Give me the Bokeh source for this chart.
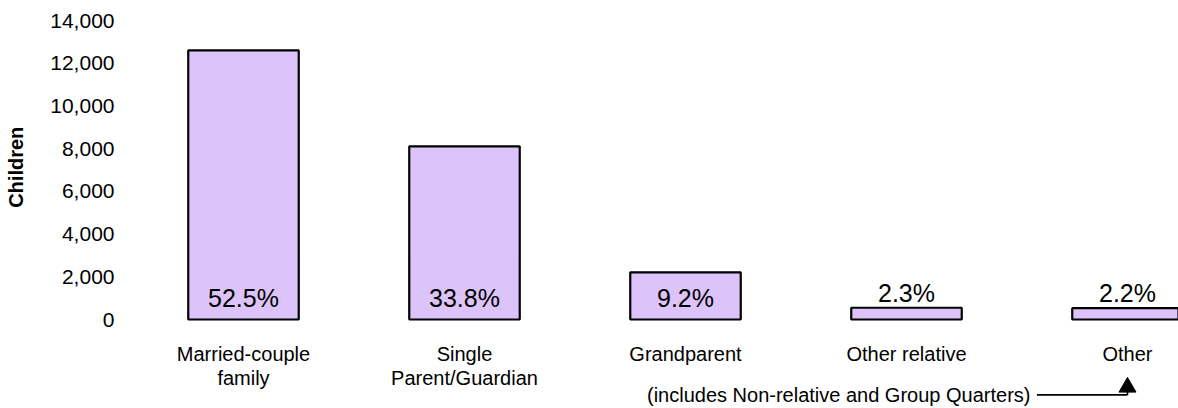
from bokeh.plotting import figure
from bokeh.models import FixedTicker, NumeralTickFormatter, Range1d, ColumnDataSource
from bokeh.core.properties import value
from bokeh.embed import file_html
from bokeh.resources import INLINE

categories = ["Married-couple\nfamily", "Single\nParent/Guardian", "Grandparent",
              "Other relative", "Other"]
children = [12600, 8110, 2210, 550, 530]
shares = ["52.5%", "33.8%", "9.2%", "2.3%", "2.2%"]
y_ticks = [0, 2000, 4000, 6000, 8000, 10000, 12000, 14000]
note = "(includes Non-relative and Group Quarters)"

FONT = "Liberation Sans"
xs = list(range(len(categories)))

p = figure(width=1178, height=408, output_backend="svg", toolbar_location=None,
           x_range=Range1d(-0.5113, 4.2308), y_range=Range1d(-4167, 14000),
           min_border_left=130, min_border_right=0, min_border_top=20,
           min_border_bottom=0)
p.outline_line_color = None
p.xgrid.grid_line_color = None
p.ygrid.grid_line_color = None
p.xaxis.visible = False

src = ColumnDataSource(dict(x=xs, top=children, lab=shares, cat=categories,
                            ly=[985 if v >= 2000 else v + 714 for v in children]))
p.vbar(x="x", top="top", width=0.5, bottom=0, source=src,
       fill_color="#dcc3fa", line_color="black", line_width=2.2)
p.text(x="x", y="ly", text="lab", source=src, text_align="center",
       text_baseline="middle", text_font=value(FONT), text_font_size="25px",
       text_color="black")

# category labels below the bars
p.text(x="x", y=-1120, text="cat", source=src, text_align="center",
       text_baseline="top", text_font=value(FONT), text_font_size="20px",
       text_color="black", text_line_height=1.05)

# y axis (label centred on the 0-14,000 span rather than the whole frame)
ya = p.yaxis[0]
ya.ticker = FixedTicker(ticks=y_ticks)
ya.formatter = NumeralTickFormatter(format="0,0")
ya.axis_line_color = None
ya.major_tick_line_color = None
ya.minor_tick_line_color = None
ya.major_label_text_font = FONT
ya.major_label_text_font_size = "21px"
ya.major_label_text_color = "black"
ya.major_label_standoff = 10
ya.axis_label = "\u00a0" * 17 + "Children"
ya.axis_label_text_font = FONT
ya.axis_label_text_font_style = "bold"
ya.axis_label_text_font_size = "20px"
ya.axis_label_text_color = "black"
ya.axis_label_standoff = 20

# note with arrow pointing to "Other"
note_y = -3530
p.text(x=[3.561], y=[note_y], text=[note], text_align="right",
       text_baseline="middle", text_font=value(FONT), text_font_size="20px",
       text_color="black")
p.segment(x0=[3.59, 4.0], y0=[note_y, note_y], x1=[4.0, 4.0], y1=[note_y, -3300],
          line_color="black", line_width=1.6)
p.scatter(x=[4.0], y=[-3170], marker="triangle", size=17,
          fill_color="black", line_color="black")

open("out.html", "w").write(file_html(p, INLINE))
